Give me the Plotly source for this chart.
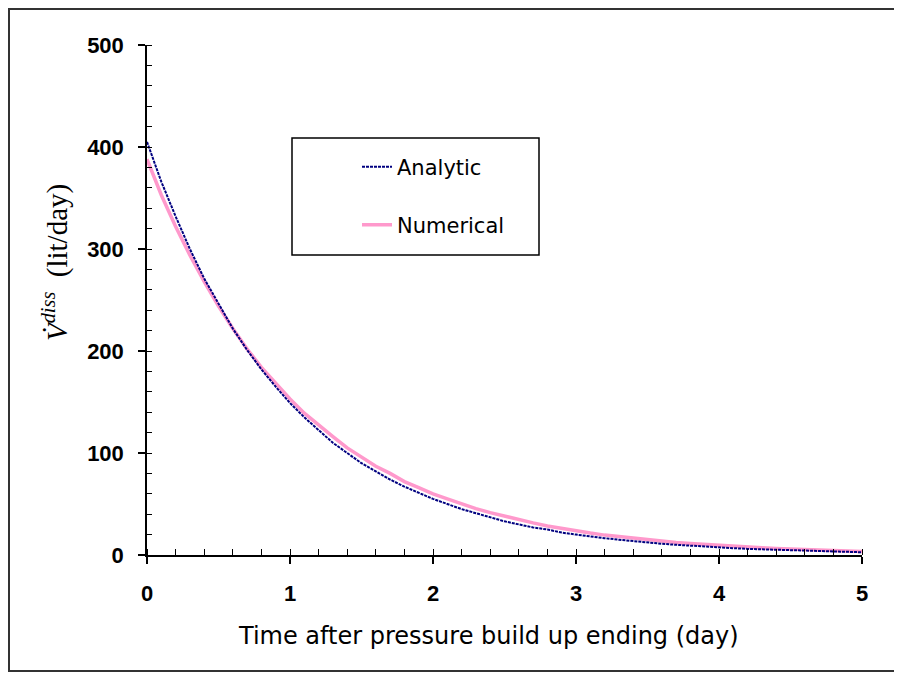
import plotly.graph_objects as go

# Time after pressure build up ending (day)
time_days = [0.0, 0.1, 0.2, 0.3, 0.4, 0.5, 0.6, 0.7, 0.8, 0.9,
             1.0, 1.1, 1.2, 1.3, 1.4, 1.5, 1.6, 1.7, 1.8, 1.9,
             2.0, 2.1, 2.2, 2.3, 2.4, 2.5, 2.6, 2.7, 2.8, 2.9,
             3.0, 3.1, 3.2, 3.3, 3.4, 3.5, 3.6, 3.7, 3.8, 3.9,
             4.0, 4.1, 4.2, 4.3, 4.4, 4.5, 4.6, 4.7, 4.8, 4.9, 5.0]

analytic = [405, 366, 332, 300, 271, 246, 222, 201, 182, 165,
            149, 135, 122, 110, 100, 90, 82, 74, 67, 61,
            55, 50, 45, 41, 37, 33, 30, 27, 25, 22,
            20, 18, 16.5, 15, 13.5, 12, 11, 10, 9, 8.2,
            7.5, 6.7, 6, 5.5, 5, 4.5, 4, 3.7, 3.3, 3, 2.7]

numerical = [388, 353, 322, 294, 268, 244, 222, 202, 184, 168,
             153, 139, 127, 116, 105, 96, 87, 80, 72, 66,
             60, 55, 50, 45.5, 41.5, 38, 34.5, 31.5, 28.5, 26,
             23.5, 21.5, 19.5, 18, 16.3, 14.8, 13.5, 12.3, 11.2, 10.2,
             9.2, 8.4, 7.7, 7, 6.4, 5.8, 5.3, 4.8, 4.3, 3.9, 3.5]

x_ticks = [0, 1, 2, 3, 4, 5]
y_ticks = [0, 100, 200, 300, 400, 500]

# page body has an 8px margin; plot area target (page px): x 147..862, y 45..555
PL, PR, PT, PB = 147, 862, 45, 555
PW, PH = PR - PL, PB - PT
BODY = 8


def px(xp):
    return (xp - PL) / PW


def py(yp):
    return (PB - yp) / PH


fig = go.Figure()
fig.add_trace(go.Scatter(
    x=time_days, y=numerical, name="Numerical", mode="lines",
    line=dict(color="#FF99CC", width=3.5), legend="legend2"))
fig.add_trace(go.Scatter(
    x=time_days, y=analytic, name="Analytic", mode="lines",
    line=dict(color="#000080", width=2, dash="3px,1px"), legend="legend"))

tickfont = dict(family="Liberation Sans, Arial, sans-serif", size=22, color="black", weight="bold")
legfont = dict(family="DejaVu Sans, sans-serif", size=21, color="black")

fig.update_layout(
    width=902, height=675,
    margin=dict(l=PL - BODY, r=902 - (PR - BODY), t=PT - BODY, b=675 - (PB - BODY)),
    paper_bgcolor="white", plot_bgcolor="white",
    showlegend=True,
    xaxis=dict(range=[0, 5], tickvals=x_ticks, ticktext=[str(v) for v in x_ticks],
               showgrid=False, zeroline=False, showline=True, linecolor="black", linewidth=1.5,
               ticks="outside", ticklen=7, tickwidth=1.5, tickcolor="black",
               tickfont=tickfont, ticklabelstandoff=11,
               minor=dict(dtick=0.2, ticks="inside", ticklen=6, tickwidth=1.2, tickcolor="black")),
    yaxis=dict(range=[0, 500], tickvals=y_ticks, ticktext=[str(v) for v in y_ticks],
               showgrid=False, zeroline=False, showline=True, linecolor="black", linewidth=1.5,
               ticks="outside", ticklen=7, tickwidth=1.5, tickcolor="black",
               tickfont=tickfont, ticklabelstandoff=10,
               minor=dict(dtick=20, ticks="inside", ticklen=5, tickwidth=1.2, tickcolor="black")),
    xaxis2=dict(range=[0, 5], overlaying="x", anchor="y", tickvals=x_ticks,
                showticklabels=False, showgrid=False, zeroline=False, showline=False,
                ticks="inside", ticklen=7, tickwidth=1.5, tickcolor="black"),
    yaxis2=dict(range=[0, 500], overlaying="y", anchor="x", tickvals=y_ticks,
                showticklabels=False, showgrid=False, zeroline=False, showline=False,
                ticks="inside", ticklen=7, tickwidth=1.5, tickcolor="black"),
    legend=dict(x=px(357), y=py(167), xanchor="left", yanchor="middle",
                bgcolor="rgba(0,0,0,0)", borderwidth=0, font=legfont),
    legend2=dict(x=px(357), y=py(225), xanchor="left", yanchor="middle",
                 bgcolor="rgba(0,0,0,0)", borderwidth=0, font=legfont),
    shapes=[
        dict(type="rect", xref="paper", yref="paper",
             x0=px(292), x1=px(539), y0=py(255), y1=py(138),
             line=dict(color="black", width=1.5), fillcolor="rgba(0,0,0,0)", layer="below"),
        dict(type="rect", xref="paper", yref="paper",
             x0=px(9), x1=px(899), y0=py(671), y1=py(9),
             line=dict(color="#333333", width=2), fillcolor="rgba(0,0,0,0)", layer="below"),
    ],
    annotations=[
        dict(text="Time after pressure build up ending (day)", xref="paper", yref="paper",
             x=px(488), y=py(636), xanchor="center", yanchor="middle",
             showarrow=False, font=dict(family="DejaVu Sans, sans-serif", size=24, color="black")),
        dict(text="<i>V\u0307</i><sup><i>diss</i></sup>\u00a0\u00a0(lit/day)", xref="paper", yref="paper",
             x=px(55), y=py(263), xanchor="center", yanchor="middle",
             textangle=-90, showarrow=False,
             font=dict(family="Liberation Serif, Times New Roman, serif", size=29, color="black")),
    ],
)

fig.write_html("out.html")
